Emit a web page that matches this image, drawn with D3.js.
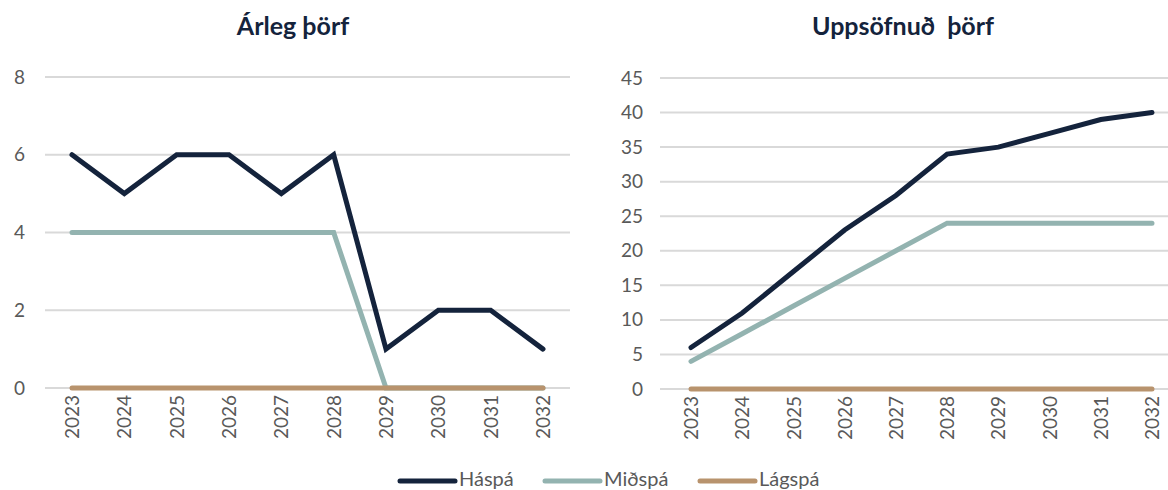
<!DOCTYPE html>
<html>
<head>
<meta charset="utf-8">
<script src="https://cdn.jsdelivr.net/npm/d3@7"></script>
<style>
  body { margin: 0; background: #fff; }
  svg { display: block; font-family: Lato, "Open Sans", sans-serif; }
</style>
</head>
<body>
<svg id="chart" width="1168" height="490"></svg>
<script>
var years = [2023, 2024, 2025, 2026, 2027, 2028, 2029, 2030, 2031, 2032];

// Árleg þörf
var annualHigh = [6, 5, 6, 6, 5, 6, 1, 2, 2, 1];
var annualMid = [4, 4, 4, 4, 4, 4, 0, 0, 0, 0];
var annualLow = [0, 0, 0, 0, 0, 0, 0, 0, 0, 0];

// Uppsöfnuð þörf
var cumHigh = [6, 11, 17, 23, 28, 34, 35, 37, 39, 40];
var cumMid = [4, 8, 12, 16, 20, 24, 24, 24, 24, 24];
var cumLow = [0, 0, 0, 0, 0, 0, 0, 0, 0, 0];

var annualTicks = [0, 2, 4, 6, 8];
var cumTicks = [0, 5, 10, 15, 20, 25, 30, 35, 40, 45];

var seriesNames = ["Háspá", "Miðspá", "Lágspá"];
var colors = ["#14233c", "#93b3b0", "#b8936d"];

var svg = d3.select("#chart");

function drawPanel(opt) {
    var x = d3.scalePoint().domain(years).range(opt.xRange);
    var y = d3.scaleLinear().domain(opt.yDomain).range([opt.yBottom, opt.yTop]);

    var g = svg.append("g");

    // gridlines
    g.selectAll("line.grid")
        .data(opt.ticks)
        .enter().append("line")
        .attr("class", "grid")
        .attr("x1", opt.gridX[0]).attr("x2", opt.gridX[1])
        .attr("y1", function(d) { return y(d); })
        .attr("y2", function(d) { return y(d); })
        .attr("stroke", "#d9d9d9")
        .attr("stroke-width", 2);

    // y axis labels
    var yAxis = d3.axisLeft(y).tickValues(opt.ticks).tickSize(0).tickPadding(0);
    var ya = g.append("g")
        .attr("transform", "translate(" + opt.yLabelX + ",0)")
        .call(yAxis);
    ya.select(".domain").remove();
    ya.selectAll("text")
        .attr("fill", "#595959")
        .style("font-size", "19px")
        .style("font-family", "Lato, 'Open Sans', sans-serif");

    // x axis labels rotated
    var xAxis = d3.axisBottom(x).tickSize(0).tickPadding(0);
    var xa = g.append("g")
        .attr("transform", "translate(0," + (opt.yBottom + 7) + ")")
        .call(xAxis);
    xa.select(".domain").remove();
    xa.selectAll("text")
        .attr("fill", "#595959")
        .style("font-size", "19px")
        .style("font-family", "Lato, 'Open Sans', sans-serif")
        .attr("text-anchor", "end")
        .attr("dy", "0.35em")
        .attr("transform", "rotate(-90)");

    // lines, Háspá first so Lágspá ends on top
    var line = d3.line()
        .x(function(d, i) { return x(years[i]); })
        .y(function(d) { return y(d); });

    opt.series.forEach(function(s, k) {
        g.append("path")
            .datum(s)
            .attr("d", line)
            .attr("fill", "none")
            .attr("stroke", colors[k])
            .attr("stroke-width", 5)
            .attr("stroke-linecap", "round")
            .attr("stroke-linejoin", "miter");
    });

    // title
    g.append("text")
        .attr("x", opt.titleX)
        .attr("y", 35)
        .attr("text-anchor", "middle")
        .attr("fill", "#14233c")
        .style("font-size", "25px")
        .style("font-weight", "bold")
        .style("white-space", "pre")
        .text(opt.title);
}

drawPanel({
    title: "Árleg þörf",
    titleX: 293,
    xRange: [72, 543],
    yDomain: [0, 8],
    yBottom: 388, yTop: 77,
    gridX: [45, 570],
    yLabelX: 25,
    ticks: annualTicks,
    series: [annualHigh, annualMid, annualLow]
});

drawPanel({
    title: "Uppsöfnuð  þörf",
    titleX: 903,
    xRange: [691, 1152],
    yDomain: [0, 45],
    yBottom: 389, yTop: 78,
    gridX: [660, 1168],
    yLabelX: 643,
    ticks: cumTicks,
    series: [cumHigh, cumMid, cumLow]
});

// legend
var legendX = [400, 545, 700];
var lg = svg.append("g");
seriesNames.forEach(function(name, i) {
    lg.append("line")
        .attr("x1", legendX[i]).attr("x2", legendX[i] + 55)
        .attr("y1", 481).attr("y2", 481)
        .attr("stroke", colors[i])
        .attr("stroke-width", 5)
        .attr("stroke-linecap", "round");
    lg.append("text")
        .attr("x", legendX[i] + 59)
        .attr("y", 486)
        .attr("fill", "#595959")
        .style("font-size", "20px")
        .text(name);
});
</script>
</body>
</html>
